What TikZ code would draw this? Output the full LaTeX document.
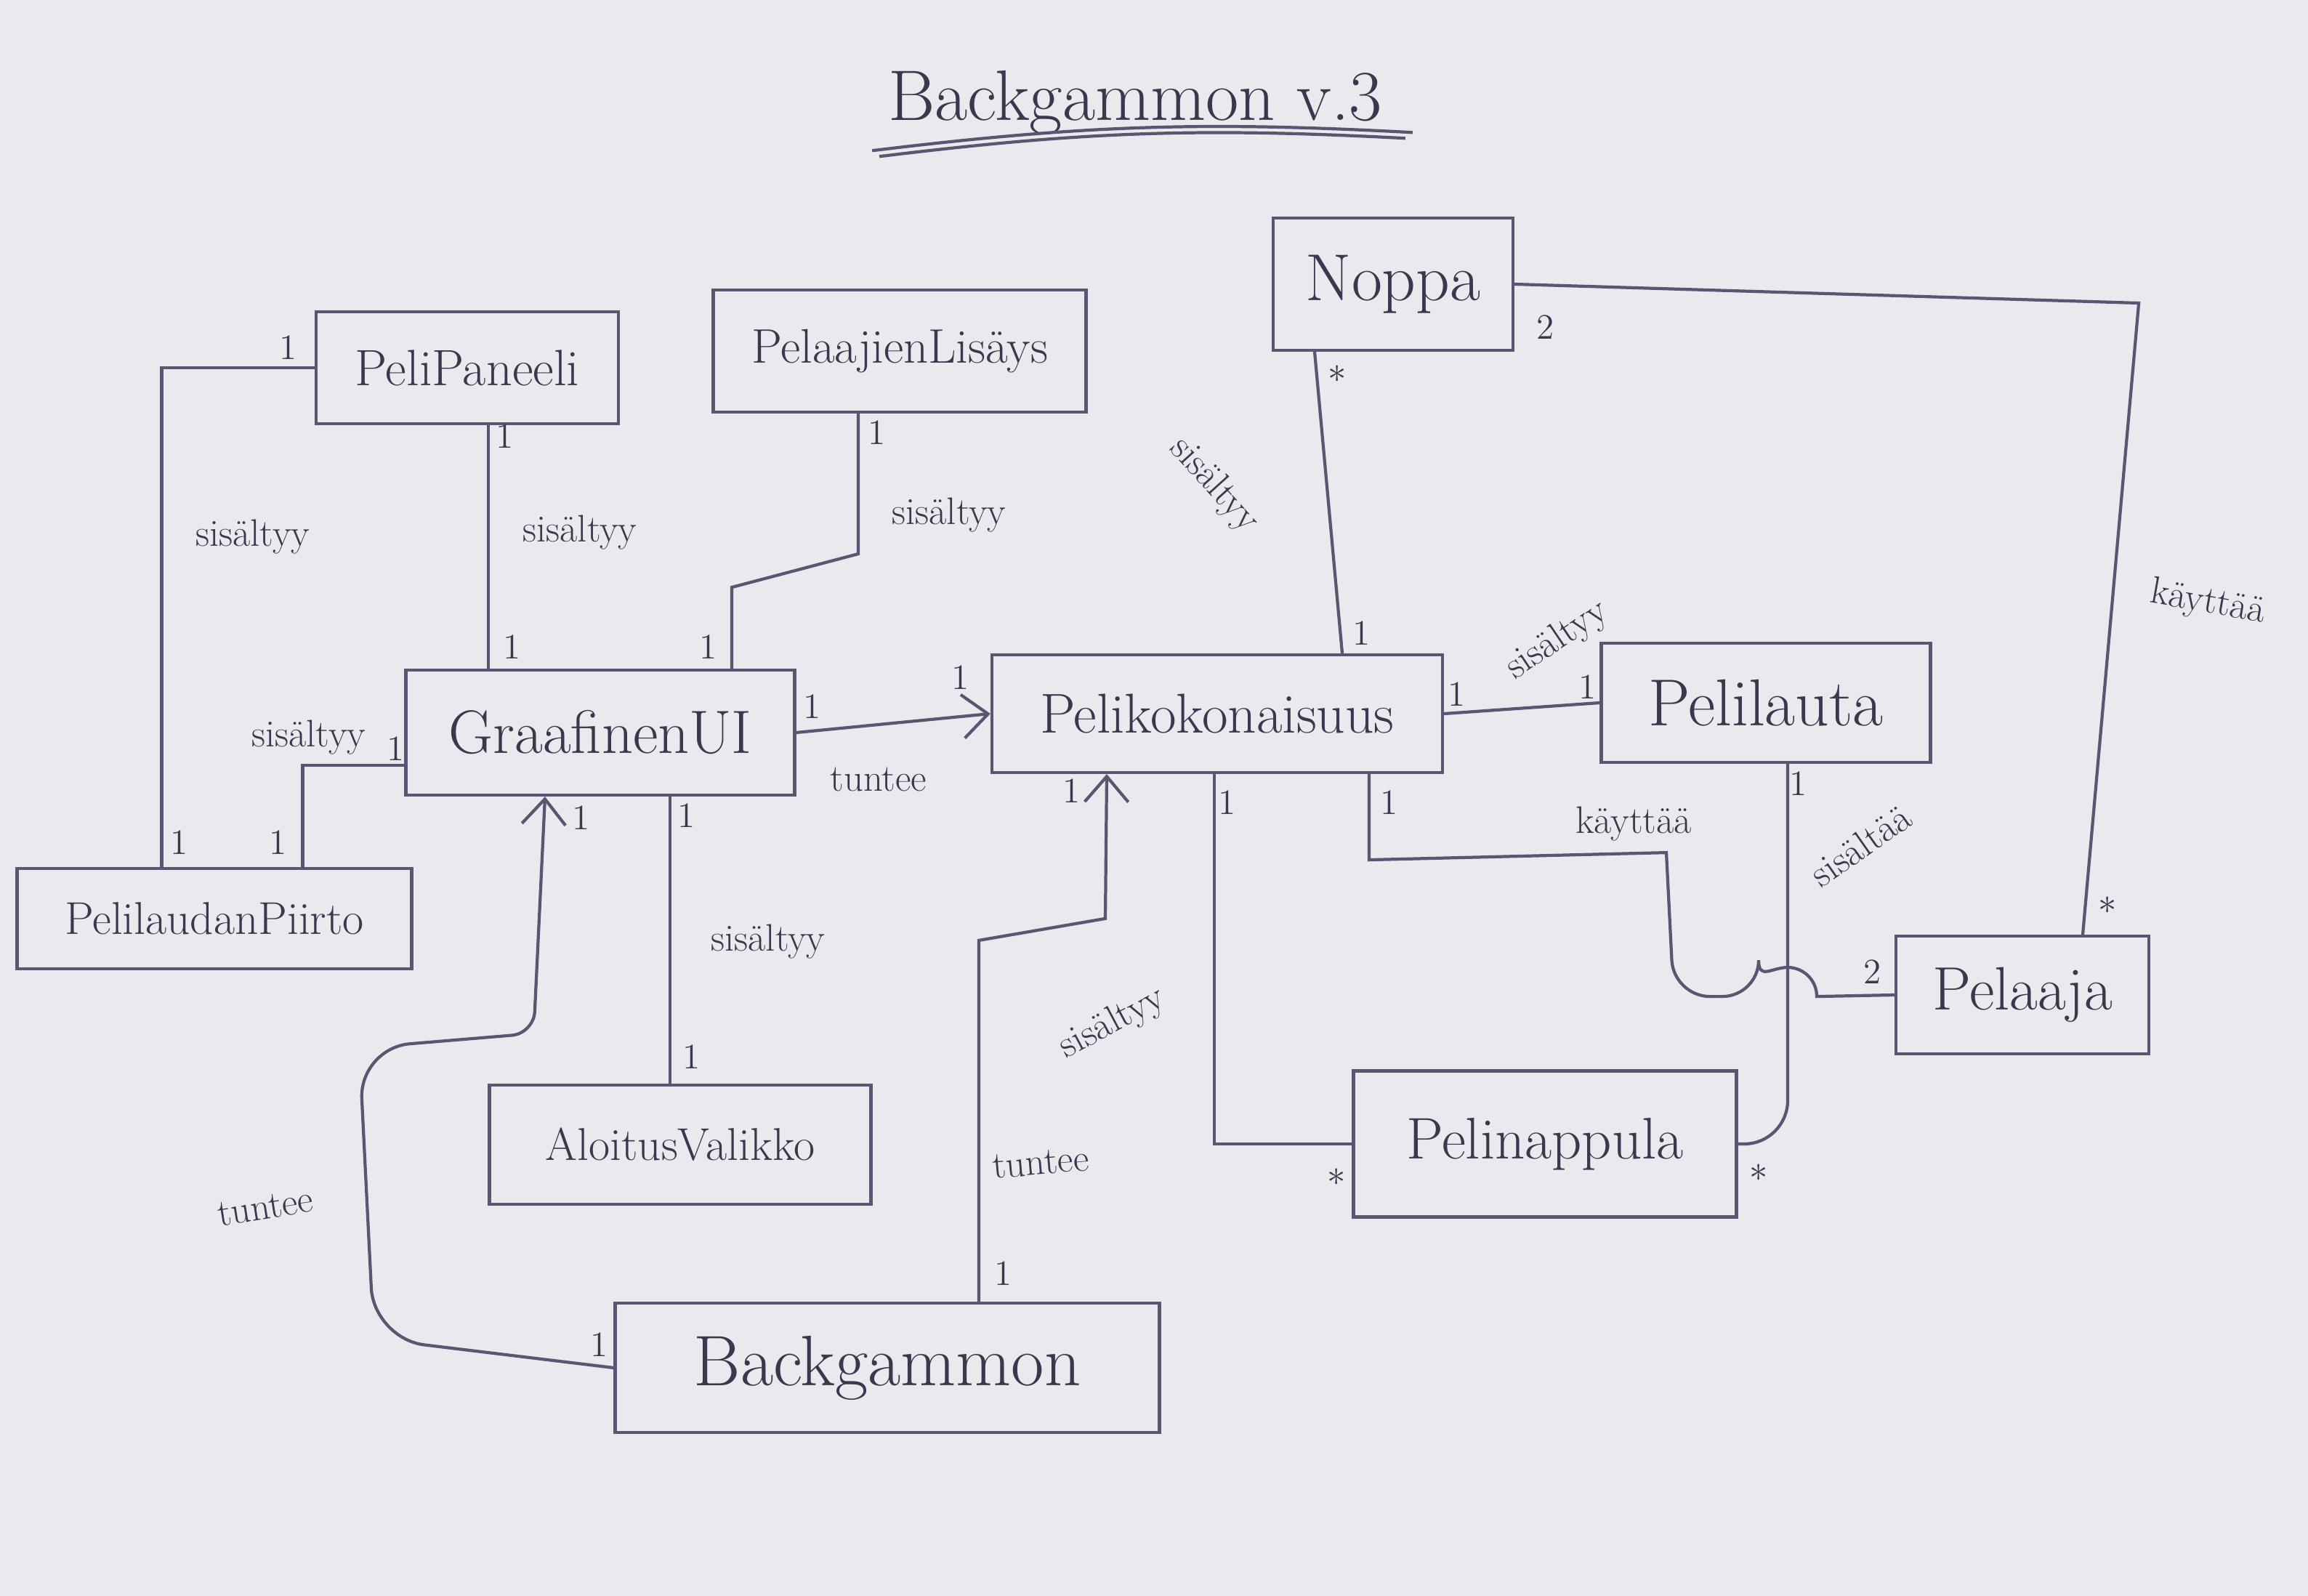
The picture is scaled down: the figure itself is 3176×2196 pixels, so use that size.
\documentclass[tikz,border=0pt]{standalone}
\usepackage{tikz}
\usetikzlibrary{calc,arrows.meta}
\definecolor{paper}{RGB}{233,233,238}
\definecolor{pencil}{RGB}{88,86,112}
\definecolor{ink}{RGB}{58,56,78}
\newcommand\umlclass[6]{% name, position, width, height, font size, text
  \node[ClassSty,minimum width=#3,minimum height=#4,font=\fontsize{#5}{#5}\selectfont] (#1) at (#2) {#6};
}

\begin{document}
\begin{tikzpicture}[x=0.1mm,y=-0.1mm]
		\tikzstyle{every path}=[very thick,color=pencil]
		\tikzstyle{ClassSty}=[draw,text=ink,inner sep=2mm]
		\tikzstyle{RoleSty}=[text=ink,font=\fontsize{15}{15}\selectfont,inner sep=1pt]
		\tikzstyle{MultSty}=[text=ink,font=\fontsize{14}{14}\selectfont,inner sep=1pt]
		\tikzstyle{KnowsSty}=[-{Straight Barb[length=3.5mm,width=6mm]}]

\fill[paper] (0,0) rectangle (3176,2196);
\useasboundingbox (0,0) rectangle (3176,2196);

\node[text=ink,font=\fontsize{28}{28}\selectfont,inner sep=0pt] (title) at (1562,141) {Backgammon v.3};
\draw ([xshift=-2mm,yshift=-2mm]title.south west) to[bend left=5] ([xshift=4mm,yshift=0.5mm]title.south east);
\draw ([xshift=-1mm,yshift=-2.8mm]title.south west) to[bend left=5] ([xshift=3mm,yshift=-0.3mm]title.south east);

\umlclass{peli_paneeli}{643,506}{41.6mm}{15.4mm}{20}{PeliPaneeli}
\umlclass{pelaajien_lisays}{1238,483}{51.3mm}{16.8mm}{19}{PelaajienLisäys}
\umlclass{noppa}{1917,391}{33mm}{18.2mm}{26}{Noppa}
\umlclass{graafinen_ui}{826,1008}{53.5mm}{17.2mm}{24}{GraafinenUI}
\umlclass{kokonaisuus}{1675,982}{62mm}{16.2mm}{22}{Pelikokonaisuus}
\umlclass{pelilauta}{2430,967}{45.3mm}{16.4mm}{26}{Pelilauta}
\umlclass{laudan_piirto}{295,1264}{54.3mm}{13.8mm}{18}{PelilaudanPiirto}
\umlclass{aloitus_valikko}{936,1575}{52.5mm}{16.4mm}{18}{AloitusValikko}
\umlclass{pelaaja}{2783,1369}{34.8mm}{16.2mm}{24}{Pelaaja}
\umlclass{pelinappula}{2126,1574}{52.7mm}{20.1mm}{23}{Pelinappula}
\umlclass{backgammon}{1221,1882}{74.9mm}{17.8mm}{28}{Backgammon}

% ui side
\draw (peli_paneeli.west) -| ($(laudan_piirto.north west)+(201,0)$);
\draw ([xshift=2.9mm]peli_paneeli.south) coordinate (c) -- (c |- graafinen_ui.north);
\draw ([xshift=-5.7mm]pelaajien_lisays.south) -- ++(0,193) -- ++(-174,46) -- ([xshift=18.1mm]graafinen_ui.north);
\draw ([yshift=-4.5mm]graafinen_ui.west) -| ($(laudan_piirto.north west)+(395,0)$);
\draw[KnowsSty] (graafinen_ui.east) -- (kokonaisuus.west);
\draw ([xshift=9.6mm]graafinen_ui.south) coordinate (c) -- (c |- aloitus_valikko.north);
\draw[KnowsSty] (backgammon.west) [rounded corners=7mm] -- ++(-330,-40) -- ++(-20,-400) [rounded corners=3mm] -- ++(240,-20) [sharp corners] -- ([xshift=-7.6mm]graafinen_ui.south);
\draw[KnowsSty] ([xshift=12.6mm]backgammon.north) -- ++(0,-497) -- ++(174,-30) -- ([xshift=-15.2mm]kokonaisuus.south);

% game side
\draw ([xshift=-10.8mm]noppa.south) -- ([xshift=17.2mm]kokonaisuus.north);
\draw (noppa.east) -- ++(859,26) -- ([xshift=8.3mm]pelaaja.north);
\draw (kokonaisuus.east) -- (pelilauta.west);
\draw ([xshift=20.9mm]kokonaisuus.south) -- ++(0,118) -- ++(409,-10) [rounded corners=5mm] -- ++(10,198) -- ++(117,0) [sharp corners] arc[start angle=180,end angle=0,radius=4mm] -- (pelaaja.west);
\draw[rounded corners=6mm] ([xshift=3mm]pelilauta.south) |- (pelinappula.east);
\draw ([xshift=-0.4mm]kokonaisuus.south) |- (pelinappula.west);

\foreach \i/\p/\t in {1/{(397,478)}/1, 2/{(247,1159)}/1, 3/{(695,600)}/1, 4/{(705,890)}/1,
  5/{(1207,595)}/1, 6/{(975,890)}/1, 7/{(545,1030)}/1, 8/{(383,1159)}/1,
  9/{(1118,972)}/1, 10/{(1322,932)}/1, 11/{(945,1122)}/1, 12/{(952,1454)}/1,
  13/{(825,1850)}/1, 14/{(800,1125)}/1, 15/{(1381,1752)}/1, 16/{(1475,1088)}/1,
  17/{(1840,515)}/$*$, 18/{(1874,871)}/1, 19/{(2127,450)}/2, 20/{(2900,1246)}/$*$,
  21/{(2005,955)}/1, 22/{(2185,945)}/1, 23/{(1912,1104)}/1, 24/{(2577,1337)}/2,
  25/{(1689,1104)}/1, 26/{(1839,1620)}/$*$, 27/{(2475,1078)}/1, 28/{(2420,1614)}/$*$}
{
  \node[MultSty] (mult\i) at \p {\t};
}

\foreach \i/\p/\r/\t in {1/{(348,739)}/0/sisältyy, 2/{(798,733)}/0/sisältyy,
  3/{(1306,709)}/0/sisältyy, 4/{(425,1015)}/0/sisältyy, 5/{(1209,1073)}/0/tuntee,
  6/{(1057,1296)}/0/sisältyy, 7/{(365,1661)}/9/tuntee, 8/{(1432,1600)}/5/tuntee,
  9/{(1531,1408)}/28/sisältyy, 10/{(1671,668)}/-48/sisältyy, 11/{(3038,830)}/-10/käyttää,
  12/{(2143,881)}/34/sisältyy, 13/{(2248,1134)}/0/käyttää, 14/{(2560,1163)}/35/sisältää}
{
  \node[RoleSty,rotate=\r] (role\i) at \p {\t};
}

\end{tikzpicture}
\end{document}
